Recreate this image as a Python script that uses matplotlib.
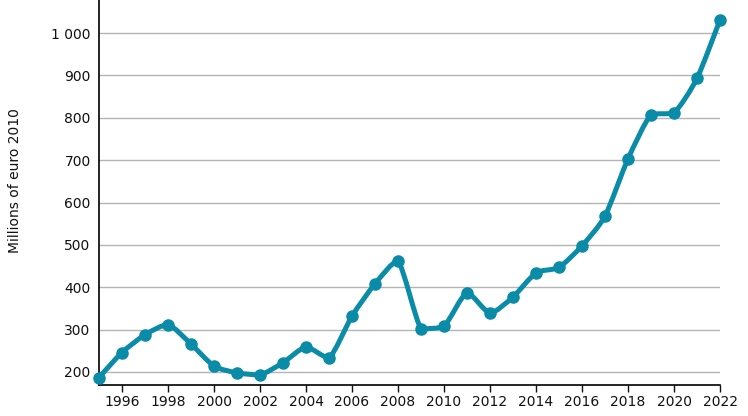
import matplotlib
matplotlib.use("Agg")
import matplotlib.pyplot as plt
from matplotlib.path import Path
from matplotlib.patches import PathPatch
from matplotlib.ticker import FuncFormatter

years = list(range(1995, 2023))
values = [187, 246, 288, 312, 266, 214, 198, 193, 222, 259, 233, 332, 408, 462,
          302, 308, 387, 339, 377, 434, 447, 498, 568, 703, 807, 812, 893, 1031]

line_color = "#0a8ba8"


def smooth_path(xs, ys, tension=0.3):
    # cardinal spline, control points kept inside each segment's y range
    n = len(xs)
    k = (1 - tension) / 6
    verts = [(xs[0], ys[0])]
    codes = [Path.MOVETO]
    for i in range(1, n):
        x0, y0 = xs[max(i - 2, 0)], ys[max(i - 2, 0)]
        x1, y1 = xs[i - 1], ys[i - 1]
        x2, y2 = xs[i], ys[i]
        x3, y3 = xs[min(i + 1, n - 1)], ys[min(i + 1, n - 1)]
        lo, hi = min(y1, y2), max(y1, y2)
        c1y = min(max(y1 + k * (y2 - y0), lo), hi)
        c2y = min(max(y2 - k * (y3 - y1), lo), hi)
        verts += [(x1 + k * (x2 - x0), c1y), (x2 - k * (x3 - x1), c2y), (x2, y2)]
        codes += [Path.CURVE4] * 3
    return Path(verts, codes)


fig = plt.figure(figsize=(7.48, 4.16), dpi=100)
ax = fig.add_axes([99 / 748, 31 / 416, 621 / 748, 385 / 416])

ax.set_xlim(1995, 2022)
ax.set_ylim(169.3, 1078)

ax.add_patch(PathPatch(smooth_path(years, values), facecolor="none",
                       edgecolor=line_color, linewidth=3.6, capstyle="round",
                       joinstyle="round", clip_on=False, zorder=3))
ax.plot(years, values, "o", color=line_color, markersize=8, clip_on=False, zorder=4)

ax.set_yticks([200, 300, 400, 500, 600, 700, 800, 900, 1000])
ax.yaxis.set_major_formatter(FuncFormatter(lambda v, p: f"{int(v):,}".replace(",", " ")))
ax.set_xticks(list(range(1996, 2023, 2)))

ax.grid(axis="y", color="#b4b4b4", linewidth=1)
ax.set_axisbelow(True)
for s in ["top", "right"]:
    ax.spines[s].set_visible(False)
ax.spines["left"].set_linewidth(1.2)
ax.spines["bottom"].set_linewidth(1.2)
ax.tick_params(axis="y", length=0, pad=6, labelsize=10, colors="#111111")
ax.tick_params(axis="x", length=5, width=1, pad=2, labelsize=10, colors="#111111")

ax.set_ylabel("Millions of euro 2010", fontsize=10, color="#111111")
ax.yaxis.set_label_coords(-0.124, 0.532)

fig.savefig("out.png", dpi=100)
